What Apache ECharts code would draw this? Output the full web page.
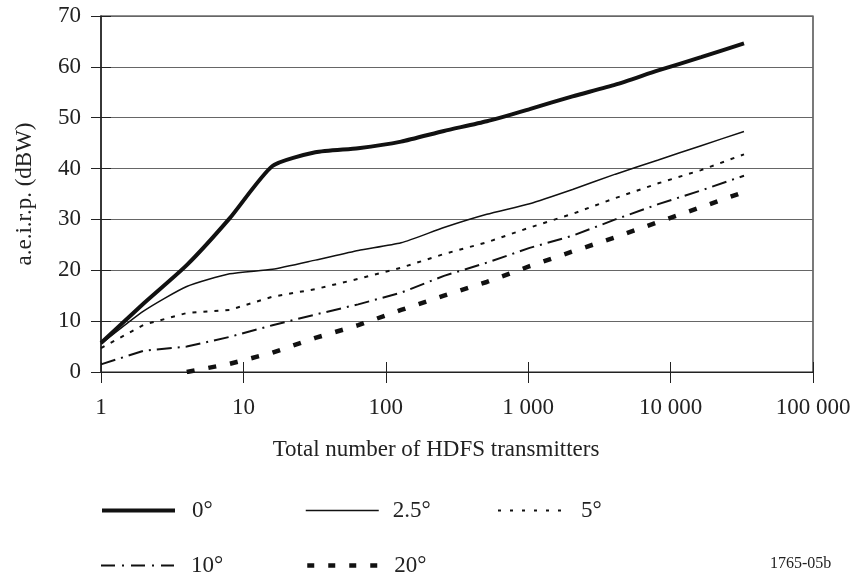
<!DOCTYPE html>
<html>
<head>
<meta charset="utf-8">
<script src="https://cdn.jsdelivr.net/npm/echarts@6/dist/echarts.min.js"></script>
<style>
  html, body { margin: 0; padding: 0; background: #fff; }
  #chart { width: 859px; height: 575px; }
</style>
</head>
<body>
<div id="chart"></div>
<script>
// Number of HDFS transmitters (doubling steps)
const transmitters = [1, 2, 4, 8, 16, 32, 64, 128, 256, 512, 1024, 2048, 4096, 8192, 16384, 32768];

// a.e.i.r.p. (dBW) per elevation angle
const eirp0 = [5.7, 13.5, 21.0, 30.2, 40.5, 43.2, 44.0, 45.3, 47.4, 49.3, 51.7, 54.2, 56.5, 59.3, 61.9, 64.6];
const eirp2_5 = [5.5, 12.0, 16.8, 19.3, 20.2, 22.0, 23.9, 25.4, 28.4, 31.0, 33.1, 35.9, 38.9, 41.7, 44.5, 47.3];
const eirp5 = [4.7, 9.3, 11.6, 12.2, 14.8, 16.3, 18.3, 20.5, 23.2, 25.5, 28.4, 31.1, 34.2, 37.1, 39.7, 42.8];
const eirp10 = [1.5, 4.2, 5.0, 6.9, 9.2, 11.3, 13.3, 15.6, 18.9, 21.5, 24.4, 26.8, 30.0, 33.0, 35.7, 38.6];
const eirp20 = [null, null, 0.0, 1.6, 3.8, 6.7, 9.2, 12.2, 15.0, 17.7, 20.8, 23.7, 26.5, 29.5, 32.4, 35.4];

const seriesNames = ['0°', '2.5°', '5°', '10°', '20°'];
const xTickLabels = ['1', '10', '100', '1 000', '10 000', '100 000'];

const FONT = '"Liberation Serif", "Times New Roman", serif';
const INK = '#111';
const TEXT = '#222';
const FS = 23;

function pairs(values) {
  const out = [];
  values.forEach((v, i) => { if (v !== null) out.push([transmitters[i], v]); });
  return out;
}

const styles = [
  { width: 4, type: 'solid', smooth: 0.2 },
  { width: 1.5, type: 'solid', smooth: 0.2 },
  { width: 2, type: [4, 7], smooth: false },
  { width: 2, type: [15, 6, 2, 6], smooth: false },
  { width: 4.5, type: [8, 14], smooth: false }
];
const legendLineTypes = [
  'solid',
  'solid',
  [3, 9],
  [14, 7, 2, 7],
  [7, 14]
];
const valueSets = [eirp0, eirp2_5, eirp5, eirp10, eirp20];

const series = seriesNames.map((name, i) => ({
  name: name,
  type: 'line',
  data: pairs(valueSets[i]),
  symbol: 'none',
  smooth: styles[i].smooth,
  silent: true,
  animation: false,
  lineStyle: { color: INK, width: styles[i].width, type: styles[i].type, cap: 'butt' },
  itemStyle: { color: INK }
}));

// one legend block per series so each sits at its own spot
const legendSpots = [
  { left: 100, top: 499 },
  { left: 305, top: 499 },
  { left: 497, top: 499 },
  { left: 100, top: 554 },
  { left: 305, top: 554 }
];
const legendIconWidths = [73, 73, 68, 73, 73];
const textPad = [12, 9, 10, 12, 9];
const legend = seriesNames.map((name, i) => ({
  data: [{ name: name }],
  left: legendSpots[i].left,
  top: legendSpots[i].top,
  orient: 'horizontal',
  padding: 0,
  itemWidth: legendIconWidths[i],
  itemHeight: 14,
  selectedMode: false,
  itemStyle: { opacity: 0 },
  lineStyle: { color: INK, width: styles[i].width, type: legendLineTypes[i], cap: 'butt' },
  textStyle: { fontFamily: FONT, fontSize: FS, color: TEXT, padding: [0, 0, 0, textPad[i]] }
}));

const xLabelOf = v => {
  const idx = Math.round(Math.log10(v));
  return xTickLabels[idx] !== undefined ? xTickLabels[idx] : '';
};

const chart = echarts.init(document.getElementById('chart'), null, { renderer: 'canvas' });
chart.setOption({
  animation: false,
  backgroundColor: '#fff',
  grid: {
    left: 101, right: 46, top: 16, bottom: 203,
    show: true, borderColor: '#222', borderWidth: 1.2
  },
  legend: legend,
  xAxis: [
    {
      type: 'log', logBase: 10, min: 1, max: 100000,
      name: 'Total number of HDFS transmitters',
      nameLocation: 'middle', nameGap: 66,
      nameTextStyle: { fontFamily: FONT, fontSize: FS, color: TEXT, padding: [0, 42, 0, 0] },
      axisLine: { show: true, lineStyle: { color: '#222', width: 1.2 } },
      axisTick: { show: true, length: 11, lineStyle: { color: '#222', width: 1 } },
      minorTick: { show: false },
      splitLine: { show: false },
      axisLabel: { fontFamily: FONT, fontSize: FS, color: TEXT, margin: 24, formatter: xLabelOf }
    },
    {
      type: 'log', logBase: 10, min: 1, max: 100000,
      position: 'bottom',
      axisLine: { show: false },
      axisTick: { show: true, inside: true, length: 10, lineStyle: { color: '#222', width: 1 } },
      axisLabel: { show: false },
      splitLine: { show: false }
    }
  ],
  yAxis: [
    {
      type: 'value', min: 0, max: 70, interval: 10,
      name: 'a.e.i.r.p. (dBW)',
      nameLocation: 'middle', nameGap: 65,
      nameTextStyle: { fontFamily: FONT, fontSize: FS, color: TEXT },
      axisLine: { show: true, lineStyle: { color: '#222', width: 1.5 } },
      axisTick: { show: true, length: 10, lineStyle: { color: '#222', width: 1 } },
      axisLabel: { fontFamily: FONT, fontSize: FS, color: TEXT, margin: 20 },
      splitLine: { show: true, lineStyle: { color: '#666', width: 1 } }
    },
    {
      type: 'value', min: 0, max: 70, interval: 10,
      position: 'left',
      axisLine: { show: false },
      axisTick: { show: true, inside: true, length: 10, lineStyle: { color: '#222', width: 1 } },
      axisLabel: { show: false },
      splitLine: { show: false }
    }
  ],
  graphic: [
    {
      type: 'text', left: 770, top: 556,
      style: { text: '1765-05b', font: '16px "Liberation Serif", serif', fill: TEXT }
    }
  ],
  series: series
});
</script>
</body>
</html>
